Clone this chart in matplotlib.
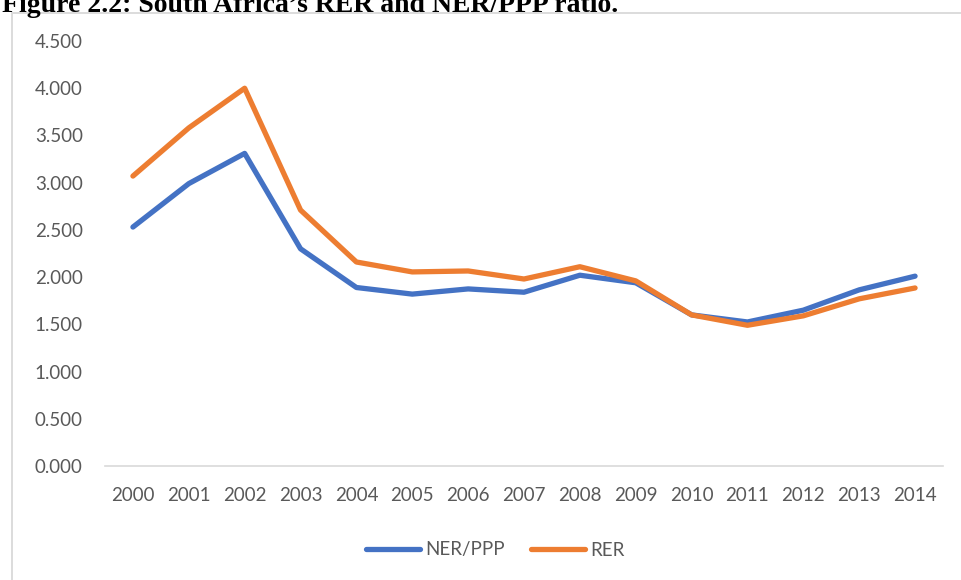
import matplotlib.pyplot as plt
from matplotlib.patches import Rectangle

years = ["2000", "2001", "2002", "2003", "2004", "2005", "2006", "2007",
         "2008", "2009", "2010", "2011", "2012", "2013", "2014"]
ner_ppp = [2.53, 2.99, 3.31, 2.30, 1.89, 1.82, 1.875, 1.84, 2.02, 1.94,
           1.60, 1.525, 1.65, 1.865, 2.01]
rer = [3.07, 3.58, 4.00, 2.71, 2.16, 2.055, 2.065, 1.98, 2.11, 1.96,
       1.60, 1.49, 1.59, 1.77, 1.885]
yticks = [0.0, 0.5, 1.0, 1.5, 2.0, 2.5, 3.0, 3.5, 4.0, 4.5]

W, H = 961, 580
fig = plt.figure(figsize=(W / 100, H / 100), dpi=100)
plt.rcParams['font.family'] = ['Lato', 'DejaVu Sans']

# chart frame (Excel chart area border)
fig.patches.append(Rectangle((12 / W, -0.01), (W - 11) / W, (H - 13) / H + 0.01,
                             transform=fig.transFigure, fill=False,
                             edgecolor="#D9D9D9", linewidth=1.3))

# caption at the very top, cropped like in the source page
fig.text(2 / W, 1 - 12 / H, "Figure 2.2: South Africa\u2019s RER and NER/PPP ratio.",
         family="Liberation Serif", weight="bold", fontsize=20,
         va="baseline", ha="left", color="black")

ax = fig.add_axes([105 / W, 1 - 466 / H, (943 - 105) / W, (466 - 41) / H])
x = list(range(len(years)))
ax.plot(x, ner_ppp, color="#4472C4", lw=3.8, solid_capstyle="round",
        solid_joinstyle="round", label="NER/PPP")
ax.plot(x, rer, color="#ED7D31", lw=3.8, solid_capstyle="round",
        solid_joinstyle="round", label="RER")

ax.set_xlim(-0.5, len(years) - 0.5)
ax.set_ylim(0, 4.5)
ax.set_yticks(yticks)
ax.set_yticklabels([f"{v:.3f}" for v in yticks])
ax.set_xticks(x)
ax.set_xticklabels(years)

ax.spines[["left", "right", "top"]].set_visible(False)
ax.spines["bottom"].set_color("#D9D9D9")
ax.spines["bottom"].set_linewidth(1.2)
ax.tick_params(axis="both", length=0, labelsize=13.5, colors="#595959")
ax.tick_params(axis="y", pad=16)
ax.tick_params(axis="x", pad=15)

leg = fig.legend(loc="center", bbox_to_anchor=(495 / W, 1 - 550 / H), ncol=2,
                 frameon=False, fontsize=13.5, handlelength=2.9,
                 handletextpad=0.25, columnspacing=1.4)
for t in leg.get_texts():
    t.set_color("#595959")

fig.savefig("out.png", dpi=100)
